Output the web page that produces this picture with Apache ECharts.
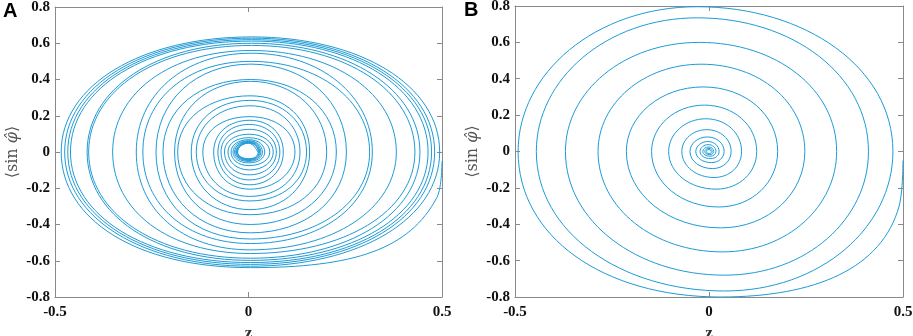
<!DOCTYPE html>
<html>
<head>
<meta charset="utf-8">
<script src="https://cdn.jsdelivr.net/npm/echarts@6/dist/echarts.min.js"></script>
<style>
html,body{margin:0;padding:0;background:#fff;}
#chart{width:913px;height:336px;}
</style>
</head>
<body>
<div id="chart"></div>
<script>
// ---- Data (quarter-turn extremes of each loop) ----
const xTicks = [-0.5, 0, 0.5];
const yTicks = [-0.8, -0.6, -0.4, -0.2, 0, 0.2, 0.4, 0.6, 0.8];

// Panel A
const aStartArc = [[0.5, -0.05], [0.487, -0.25]];
const aBottom  = [-0.638, -0.630, -0.620, -0.610, -0.598, -0.586, -0.560, -0.540, -0.505, -0.480, -0.446, -0.400, -0.346, -0.318, -0.270, -0.245, -0.205, -0.181, -0.154, -0.126, -0.099, -0.075, -0.060, -0.052, -0.047, -0.043, -0.040, -0.037];
const aBottomX = [0.005, 0.005, 0.005, 0.005, 0.005, 0.005, 0.005, 0.005, 0.005, 0.005, 0.005, 0.005, 0.004, 0.004, 0.004, 0.003, 0.003, 0.003, 0.002, 0.002, 0.002, 0.001, 0.001, 0.001, 0.001, 0.001, 0.001, 0.001];
const aLeft    = [-0.484, -0.475, -0.467, -0.460, -0.417, -0.413, -0.351, -0.290, -0.273, -0.239, -0.221, -0.191, -0.183, -0.148, -0.135, -0.118, -0.090, -0.079, -0.071, -0.062, -0.053, -0.045, -0.040, -0.036, -0.033, -0.031, -0.029, -0.028];
const aTop     = [0.635, 0.628, 0.620, 0.612, 0.600, 0.588, 0.560, 0.545, 0.500, 0.485, 0.400, 0.390, 0.310, 0.285, 0.255, 0.195, 0.175, 0.152, 0.125, 0.098, 0.079, 0.068, 0.062, 0.058, 0.055, 0.052, 0.050, 0.048];
const aTopX    = [0.008, 0.008, 0.008, 0.008, 0.008, 0.008, 0.007, 0.007, 0.006, 0.006, 0.005, 0.005, 0.004, 0.004, 0.004, 0.003, 0.003, 0.002, 0.002, 0.002, 0.001, 0.001, 0.000, 0.000, 0.000, 0.000, 0.000, 0.000];
const aRight   = [0.494, 0.481, 0.473, 0.464, 0.443, 0.430, 0.382, 0.320, 0.313, 0.253, 0.227, 0.202, 0.158, 0.150, 0.133, 0.120, 0.090, 0.081, 0.072, 0.064, 0.055, 0.042, 0.036, 0.032, 0.029, 0.027, 0.025, 0.024];

// Panel B
const bStartArc = [[0.5, -0.05], [0.49, -0.30]];
const bBottom  = [-0.800, -0.767, -0.680, -0.552, -0.420, -0.305, -0.207, -0.143, -0.094, -0.061, -0.039, -0.026, -0.017, -0.011];
const bBottomX = [0.030, 0.040, 0.040, 0.035, 0.030, 0.025, 0.018, 0.013, 0.009, 0.006, 0.004, 0.003, 0.002, 0.001];
const bLeft    = [-0.492, -0.445, -0.370, -0.286, -0.213, -0.148, -0.104, -0.070, -0.049, -0.034, -0.023, -0.016, -0.011, -0.007];
const bTop     = [0.796, 0.735, 0.600, 0.480, 0.355, 0.255, 0.180, 0.120, 0.080, 0.055, 0.038, 0.025, 0.017, 0.011];
const bTopX    = [-0.030, -0.030, -0.025, -0.020, -0.015, -0.012, -0.008, -0.006, -0.004, -0.003, -0.002, -0.001, 0.000, 0.000];
const bRight   = [0.474, 0.411, 0.329, 0.247, 0.177, 0.123, 0.084, 0.057, 0.039, 0.026, 0.018, 0.012, 0.008, 0.005];

// ---- Build the trajectory point lists from the read values ----
function trajectory(startArc, bottom, bottomX, left, top, topX, right) {
  const pts = startArc.slice();
  for (let i = 0; i < bottom.length; i++) {
    pts.push([bottomX[i], bottom[i]]);
    pts.push([left[i], 0]);
    pts.push([topX[i], top[i]]);
    pts.push([right[i], 0]);
  }
  return pts;
}
const dataA = trajectory(aStartArc, aBottom, aBottomX, aLeft, aTop, aTopX, aRight);
const dataB = trajectory(bStartArc, bBottom, bBottomX, bLeft, bTop, bTopX, bRight);

const LINE = '#1e9ad6';
const AXIS = '#8a8a8a';
const labelFont = {fontFamily: 'Liberation Serif', fontWeight: 'bold', fontSize: 15, color: '#111'};

function xAx(grid, pos, labels) {
  return {
    type: 'value', gridIndex: grid, position: pos,
    min: xTicks[0], max: xTicks[xTicks.length - 1], interval: 0.5,
    axisLine: {show: true, onZero: false, lineStyle: {color: AXIS, width: 1}},
    axisTick: {show: true, inside: true, length: 5, lineStyle: {color: AXIS}},
    axisLabel: Object.assign({show: labels, margin: 8,
      formatter: v => (Math.abs(v) < 1e-9 ? '0' : String(v))}, labelFont),
    splitLine: {show: false},
    name: labels ? 'z' : '', nameLocation: 'middle', nameGap: 22,
    nameTextStyle: {fontFamily: 'Liberation Serif', fontWeight: 'bold', fontSize: 17, color: '#333'}
  };
}
function yAx(grid, pos, labels) {
  return {
    type: 'value', gridIndex: grid, position: pos,
    min: yTicks[0], max: yTicks[yTicks.length - 1], interval: 0.2,
    axisLine: {show: true, onZero: false, lineStyle: {color: AXIS, width: 1}},
    axisTick: {show: true, inside: true, length: 5, lineStyle: {color: AXIS}},
    axisLabel: Object.assign({show: labels, margin: 5,
      formatter: v => (Math.abs(v) < 1e-9 ? '0' : v.toFixed(1))}, labelFont),
    splitLine: {show: false},
    name: labels ? '{a|⟨sin }{b|φ̂}{a|⟩}' : '', nameLocation: 'middle', nameGap: 34, nameRotate: 90,
    nameTextStyle: {
      rich: {
        a: {fontFamily: 'DejaVu Serif', fontSize: 16, color: '#555'},
        b: {fontFamily: 'DejaVu Serif', fontStyle: 'italic', fontSize: 16, color: '#555'}
      }
    }
  };
}

const chart = echarts.init(document.getElementById('chart'), null, {renderer: 'canvas'});
chart.setOption({
  animation: false,
  backgroundColor: '#fff',
  grid: [
    {left: 55, top: 7, width: 387, height: 290, containLabel: false, outerBoundsMode: 'none'},
    {left: 515, top: 6, width: 388, height: 291, containLabel: false, outerBoundsMode: 'none'}
  ],
  xAxis: [xAx(0, 'bottom', true), xAx(0, 'top', false), xAx(1, 'bottom', true), xAx(1, 'top', false)],
  yAxis: [yAx(0, 'left', true), yAx(0, 'right', false), yAx(1, 'left', true), yAx(1, 'right', false)],
  graphic: [
    {type: 'text', left: 3, top: 1, style: {text: 'A', font: 'bold 20px "Liberation Sans"', fill: '#000'}},
    {type: 'text', left: 464, top: 0, style: {text: 'B', font: 'bold 20px "Liberation Sans"', fill: '#000'}}
  ],
  series: [
    {type: 'line', xAxisIndex: 0, yAxisIndex: 0, data: dataA, smooth: 0.58, showSymbol: false,
      lineStyle: {color: LINE, width: 1}, clip: true},
    {type: 'line', xAxisIndex: 2, yAxisIndex: 2, data: dataB, smooth: 0.56, showSymbol: false,
      lineStyle: {color: LINE, width: 1}, clip: true}
  ]
});
</script>
</body>
</html>
